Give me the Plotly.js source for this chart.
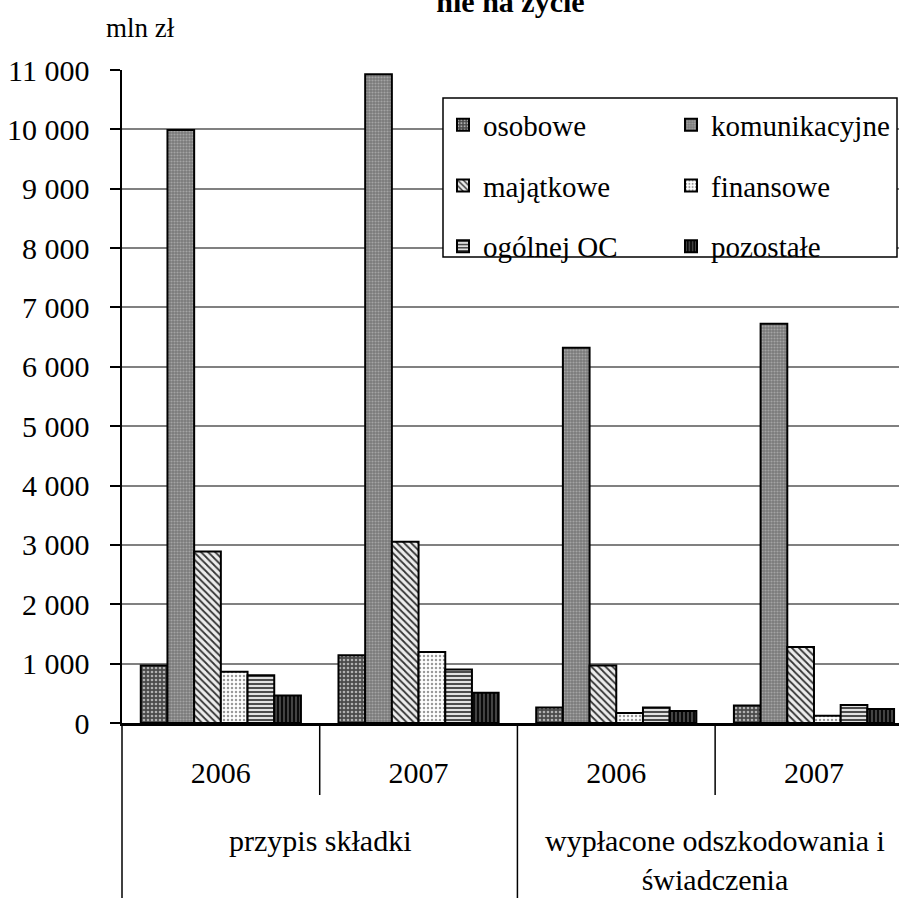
<!DOCTYPE html>
<html>
<head>
<meta charset="utf-8">
<script src="https://cdn.plot.ly/plotly-3.0.1.min.js"></script>
<style>html,body{margin:0;padding:0;overflow:hidden;background:#fff}</style>
</head>
<body>
<div id="chart" style="width:899px;height:898px"></div>
<script>
// ---- data ----
const groupNames = ['przypis składki', 'wypłacone odszkodowania i<br>świadczenia'];
const groupOfBar = [0, 0, 1, 1];
const yearLabels = ['2006', '2007', '2006', '2007'];
const seriesNames = ['osobowe', 'komunikacyjne', 'majątkowe', 'finansowe', 'ogólnej OC', 'pozostałe'];
const osobowe = [970, 1140, 263, 296];
const komunikacyjne = [9990, 10930, 6323, 6727];
const majatkowe = [2890, 3055, 970, 1279];
const finansowe = [865, 1196, 168, 123];
const ogolnejOC = [805, 900, 263, 303];
const pozostale = [465, 508, 202, 236];
const yTickVals = [0, 1000, 2000, 3000, 4000, 5000, 6000, 7000, 8000, 9000, 10000, 11000];

const seriesValues = [osobowe, komunikacyjne, majatkowe, finansowe, ogolnejOC, pozostale];
// unique category keys (group + year); the axis shows the year, the group is written underneath
const xKeys = yearLabels.map((y, i) => groupNames[groupOfBar[i]].replace('<br>', ' ') + ' ' + y);

const patterns = [
  {shape: '.', bgcolor: '#4a4a4a', fgcolor: '#b0b0b0', size: 4, solidity: 0.35},
  {shape: '.', bgcolor: '#7a7a7a', fgcolor: '#a4a4a4', size: 3, solidity: 0.4},
  {shape: '\\', bgcolor: '#ececec', fgcolor: '#333333', size: 5, solidity: 0.35},
  {shape: '.', bgcolor: '#ffffff', fgcolor: '#9a9a9a', size: 4, solidity: 0.3},
  {shape: '-', bgcolor: '#e0e0e0', fgcolor: '#3a3a3a', size: 4, solidity: 0.45},
  {shape: '|', bgcolor: '#0a0a0a', fgcolor: '#6a6a6a', size: 4, solidity: 0.3}
];
const legendOf = ['legend', 'legend2', 'legend', 'legend2', 'legend', 'legend2'];

const traces = seriesNames.map((name, i) => ({
  type: 'bar',
  name: name,
  x: xKeys,
  y: seriesValues[i],
  legend: legendOf[i],
  legendgroup: 'g' + i,
  marker: {
    color: patterns[i].bgcolor,
    line: {color: '#000', width: 2},
    pattern: patterns[i]
  },
  hoverinfo: 'skip'
}));

const xRange = [-0.5, 3.43];
const span = xRange[1] - xRange[0];
const frac = v => (v - xRange[0]) / span;
const pxToPaperX = px => (px - 122) / 777;
const pxToPaperY = py => (723 - py) / 653;
const FONT = 'Liberation Serif, Times New Roman, serif';

// group label positions: middle of each group's categories
const groupCenters = groupNames.map((g, gi) => {
  const idx = groupOfBar.map((v, i) => v === gi ? i : -1).filter(i => i >= 0);
  return (idx[0] + idx[idx.length - 1]) / 2;
});

const dividerLine = (xv, bottomPx) => ({
  type: 'line', xref: 'paper', yref: 'paper', x0: frac(xv), x1: frac(xv),
  y0: 0, y1: pxToPaperY(bottomPx), line: {color: '#000', width: 1.5}
});

const layout = {
  width: 899, height: 898,
  margin: {l: 122, r: 0, t: 70, b: 175},
  paper_bgcolor: '#fff', plot_bgcolor: '#fff',
  font: {family: FONT, size: 30, color: '#000'},
  separators: ', ',
  bargap: 0.19, bargroupgap: 0,
  barmode: 'group',
  title: {
    text: '<b>nie na życie</b>',
    font: {family: FONT, size: 30, color: '#000'},
    xref: 'paper', x: 0.5, xanchor: 'center',
    yref: 'container', y: 0.998, yanchor: 'middle'
  },
  xaxis: {
    type: 'category',
    categoryorder: 'array', categoryarray: xKeys,
    tickmode: 'array', tickvals: xKeys, ticktext: yearLabels,
    range: xRange,
    showgrid: false,
    showline: true, linecolor: '#000', linewidth: 2.5,
    ticks: '',
    ticklabelstandoff: 21,
    tickfont: {family: FONT, size: 30, color: '#000'},
    zeroline: false
  },
  yaxis: {
    range: [0, 11000],
    tickvals: yTickVals,
    tickformat: ',d',
    showgrid: true, gridcolor: '#808080', gridwidth: 2,
    showline: true, linecolor: '#000', linewidth: 2.5,
    ticks: 'outside', ticklen: 10, tickwidth: 2, tickcolor: '#000',
    ticklabelstandoff: 14,
    tickfont: {family: FONT, size: 30, color: '#000'},
    zeroline: false
  },
  yaxis2: {
    overlaying: 'y', side: 'left',
    range: [0, 11000],
    tickvals: yTickVals,
    showticklabels: false, showgrid: false, showline: false, zeroline: false,
    ticks: 'inside', ticklen: 8, tickwidth: 2, tickcolor: '#000'
  },
  legend: {
    x: pxToPaperX(443), xanchor: 'left', xref: 'paper',
    y: 0.955, yanchor: 'top',
    bgcolor: 'rgba(0,0,0,0)', borderwidth: 0,
    font: {family: FONT, size: 29, color: '#000'},
    traceorder: 'grouped', tracegroupgap: 20
  },
  legend2: {
    x: pxToPaperX(671), xanchor: 'left', xref: 'paper',
    y: 0.955, yanchor: 'top',
    bgcolor: 'rgba(0,0,0,0)', borderwidth: 0,
    font: {family: FONT, size: 29, color: '#000'},
    traceorder: 'grouped', tracegroupgap: 20
  },
  shapes: [
    {type: 'rect', xref: 'paper', yref: 'paper', layer: 'above',
     x0: pxToPaperX(443), x1: pxToPaperX(897),
     y0: pxToPaperY(257), y1: pxToPaperY(98),
     line: {color: '#000', width: 1.5}, fillcolor: '#fff'},
    dividerLine(-0.5, 898),
    dividerLine(0.5, 795),
    dividerLine(1.5, 898),
    dividerLine(2.5, 795)
  ],
  annotations: [
    {text: 'mln zł', xref: 'paper', yref: 'paper', x: pxToPaperX(140), y: pxToPaperY(28),
     xanchor: 'center', yanchor: 'middle', showarrow: false,
     font: {family: FONT, size: 27, color: '#000'}}
  ].concat(groupNames.map((g, gi) => ({
    text: g, xref: 'paper', yref: 'paper', x: frac(groupCenters[gi]), y: pxToPaperY(823),
    xanchor: 'center', yanchor: 'top', showarrow: false, borderpad: 0,
    font: {family: FONT, size: 30, color: '#000'}
  })))
};

Plotly.newPlot('chart', traces, layout, {staticPlot: true, displayModeBar: false});
</script>
</body>
</html>
